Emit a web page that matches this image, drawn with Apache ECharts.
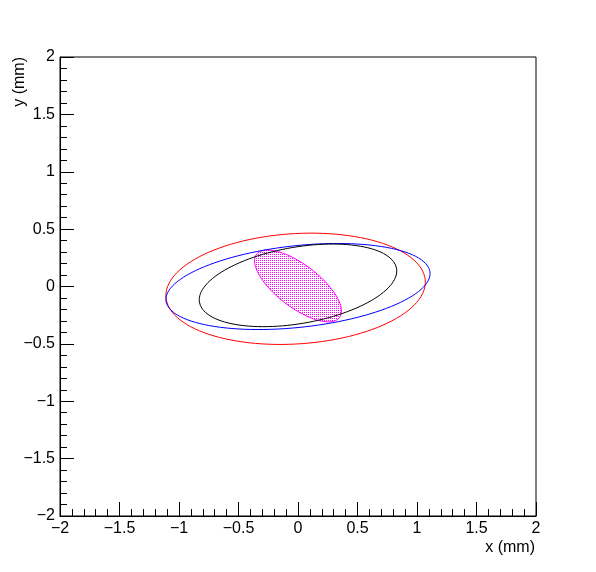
<!DOCTYPE html>
<html>
<head>
<meta charset="utf-8">
<script src="https://cdn.jsdelivr.net/npm/echarts@6/dist/echarts.min.js"></script>
<style>html,body{margin:0;padding:0;background:#fff;}#c{width:596px;height:572px;}</style>
</head>
<body>
<div id="c"></div>
<script>
// Ellipses: centre (cx, cy), half-width X, half-height Y, x-y correlation r
var ellipseNames = ['red', 'blue', 'black', 'magenta'];
var ellipseCX = [-0.02, 0.0, 0.0, 0.0];
var ellipseCY = [-0.02, 0.0, 0.01, 0.005];
var ellipseX  = [1.09, 1.11, 0.83, 0.365];
var ellipseY  = [0.485, 0.375, 0.36, 0.313];
var ellipseR  = [0.12, 0.30, 0.35, -0.70];
var ellipseColors = ['#ff0000', '#0000ff', '#000000', '#ff00ff'];

var xTicks = [-2, -1.5, -1, -0.5, 0, 0.5, 1, 1.5, 2];
var yTicks = [-2, -1.5, -1, -0.5, 0, 0.5, 1, 1.5, 2];

function ellipsePoints(i) {
  var pts = [];
  var r = ellipseR[i];
  var s = Math.sqrt(1 - r * r);
  for (var k = 0; k <= 120; k++) {
    var t = 2 * Math.PI * k / 120;
    pts.push([ellipseCX[i] + ellipseX[i] * Math.cos(t),
              ellipseCY[i] + ellipseY[i] * (r * Math.cos(t) + s * Math.sin(t))]);
  }
  return pts;
}

var pat = document.createElement('canvas');
pat.width = 2; pat.height = 2;
var pctx = pat.getContext('2d');
pctx.fillStyle = '#ff00ff';
pctx.fillRect(0, 0, 1, 1);

var magentaPts = ellipsePoints(3);
var fmt = function (v) { return String(v).replace('-', '\u2212'); };
var font = 'Liberation Sans, Arial, sans-serif';

var series = [];
series.push({
  type: 'custom',
  data: [0],
  silent: true,
  z: 1,
  renderItem: function (params, api) {
    var p = magentaPts.map(function (d) { return api.coord(d); });
    return {
      type: 'polygon',
      shape: { points: p },
      style: { fill: { image: pat, repeat: 'repeat' }, stroke: '#ff00ff', lineWidth: 1 }
    };
  }
});
for (var i = 0; i < 3; i++) {
  series.push({
    type: 'line',
    name: ellipseNames[i],
    data: ellipsePoints(i),
    showSymbol: false,
    symbol: 'none',
    smooth: false,
    z: 2,
    lineStyle: { color: ellipseColors[i], width: 1 }
  });
}

var chart = echarts.init(document.getElementById('c'), null, { renderer: 'canvas' });
chart.setOption({
  animation: false,
  backgroundColor: '#fff',
  grid: { left: 60, right: 60, top: 57, bottom: 56, show: true, borderColor: '#000', borderWidth: 1, backgroundColor: 'transparent' },
  xAxis: {
    type: 'value', min: xTicks[0], max: xTicks[xTicks.length - 1], interval: 0.5,
    axisLine: { show: true, onZero: false, lineStyle: { color: '#000', width: 1 } },
    axisTick: { show: true, inside: true, length: 14, lineStyle: { color: '#000' } },
    minorTick: { show: true, splitNumber: 5, length: 7, lineStyle: { color: '#000' } },
    splitLine: { show: false },
    axisLabel: { color: '#000', fontSize: 16, fontFamily: font, margin: 5, formatter: fmt, showMinLabel: true, showMaxLabel: true }
  },
  yAxis: {
    type: 'value', min: yTicks[0], max: yTicks[yTicks.length - 1], interval: 0.5,
    axisLine: { show: true, onZero: false, lineStyle: { color: '#000', width: 1 } },
    axisTick: { show: true, inside: true, length: 14, lineStyle: { color: '#000' } },
    minorTick: { show: true, splitNumber: 5, length: 7, lineStyle: { color: '#000' } },
    splitLine: { show: false },
    axisLabel: { color: '#000', fontSize: 16, fontFamily: font, margin: 5, formatter: fmt, showMinLabel: true, showMaxLabel: true }
  },
  graphic: [
    { type: 'text', x: 535, y: 540, style: { text: 'x (mm)', textAlign: 'right', textVerticalAlign: 'top', font: '16px ' + font, fill: '#000' } },
    { type: 'text', x: 12, y: 57, rotation: Math.PI / 2, style: { text: 'y (mm)', textAlign: 'right', textVerticalAlign: 'top', font: '16px ' + font, fill: '#000' } }
  ],
  series: series
});
</script>
</body>
</html>
